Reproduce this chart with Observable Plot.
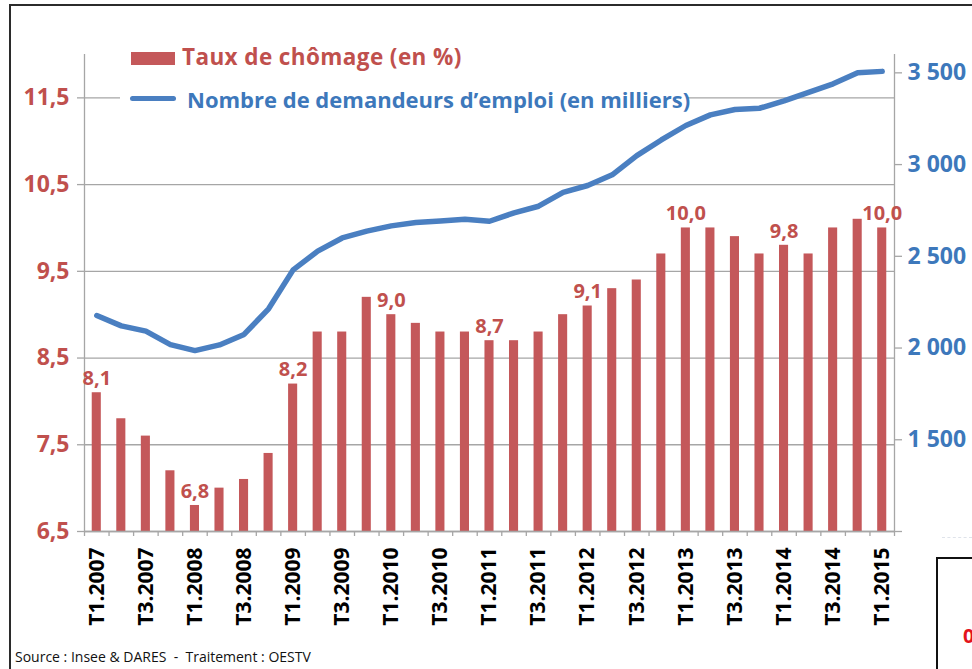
<!DOCTYPE html>
<html><head><meta charset="utf-8">
<script src="https://cdn.jsdelivr.net/npm/d3@7"></script>
<script src="https://cdn.jsdelivr.net/npm/@observablehq/plot@0.6"></script>
<style>
body{margin:0;background:#fff;}
#wrap{position:relative;width:972px;height:669px;overflow:hidden;font-family:"Open Sans",sans-serif;background:#fff;}
#chart{position:absolute;left:0;top:0;}
.frame{position:absolute;left:9px;top:4px;width:1000px;height:700px;border-left:2px solid #2b2b2b;border-top:2px solid #2b2b2b;pointer-events:none;}
#legend{position:absolute;left:120px;top:38px;width:568px;height:80px;background:#fff;}
#legend .sw1{position:absolute;left:11px;top:14px;width:44px;height:13px;background:#c4585a;}
#legend .sw2{position:absolute;left:10px;top:58px;width:46px;height:5px;border-radius:3px;background:#4a7fc1;}
#legend .t1{position:absolute;left:62px;top:2px;font-size:22.5px;font-weight:700;letter-spacing:0.4px;color:#c0504d;white-space:nowrap;line-height:34px;}
#legend .t2{position:absolute;left:67px;top:44px;font-size:22px;font-weight:700;color:#3d78bb;white-space:nowrap;line-height:34px;}
#caption{position:absolute;left:15px;top:647px;font-size:14px;color:#111;white-space:nowrap;line-height:20px;}
#box{position:absolute;left:936px;top:557px;width:100px;height:200px;border-left:2px solid #111;border-top:2px solid #111;background:#fff;}
#box span{position:absolute;left:25px;top:65px;font-size:20px;font-weight:700;color:#e3141c;line-height:24px;}
#faint{position:absolute;left:942px;top:537px;width:30px;height:1px;border-top:1px dashed #dfe3ea;}
</style></head><body>
<div id="wrap">
  <div id="chart"></div>
  <div class="frame"></div>
  <div id="legend">
    <div class="sw1"></div><div class="t1">Taux de chômage (en %)</div>
    <div class="sw2"></div><div class="t2">Nombre de demandeurs d’emploi (en milliers)</div>
  </div>
  <div id="caption">Source : Insee &amp; DARES&nbsp; -&nbsp; Traitement : OESTV</div>
  <div id="faint"></div>
  <div id="box"><span>0</span></div>
</div>
<script>
const quarters = [
  "T1.2007","T2.2007","T3.2007","T4.2007",
  "T1.2008","T2.2008","T3.2008","T4.2008",
  "T1.2009","T2.2009","T3.2009","T4.2009",
  "T1.2010","T2.2010","T3.2010","T4.2010",
  "T1.2011","T2.2011","T3.2011","T4.2011",
  "T1.2012","T2.2012","T3.2012","T4.2012",
  "T1.2013","T2.2013","T3.2013","T4.2013",
  "T1.2014","T2.2014","T3.2014","T4.2014",
  "T1.2015"
];
const tauxChomage = [8.1,7.8,7.6,7.2, 6.8,7.0,7.1,7.4, 8.2,8.8,8.8,9.2, 9.0,8.9,8.8,8.8, 8.7,8.7,8.8,9.0, 9.1,9.3,9.4,9.7, 10.0,10.0,9.9,9.7, 9.8,9.7,10.0,10.1, 10.0];
const demandeurs = [2177,2121,2092,2019, 1986,2017,2074,2214, 2426,2528,2600,2637, 2666,2684,2693,2702, 2691,2737,2773,2849, 2886,2944,3049,3134, 3213,3271,3300,3307, 3347,3394,3440,3500, 3508];
const labelledQuarters = ["T1.2007","T1.2008","T1.2009","T1.2010","T1.2011","T1.2012","T1.2013","T1.2014","T1.2015"];
const xTickLabels = quarters.filter(q => q.startsWith("T1") || q.startsWith("T3"));
const leftTicks = [6.5,7.5,8.5,9.5,10.5,11.5];
const rightTicks = [1000,1500,2000,2500,3000,3500];
const leftDomain = [6.5, 12];
const rightDomain = [1000, 3600];

const RED = "#c0504d", BAR = "#c4585a", BLUE = "#3d78bb", LINE = "#4a7fc1", GRAY = "#a6a6a6";
const W = 972, H = 669, ML = 84, MR = 78, MT = 54, MB = 138;
const step = (W - ML - MR) / quarters.length;

const toLeft = v => leftDomain[0] + (v - rightDomain[0]) / (rightDomain[1] - rightDomain[0]) * (leftDomain[1] - leftDomain[0]);
const fromLeft = y => rightDomain[0] + (y - leftDomain[0]) / (leftDomain[1] - leftDomain[0]) * (rightDomain[1] - rightDomain[0]);
const comma = v => d3.format(".1f")(v).replace(".", ",");
const thousands = n => d3.format(",")(n).replace(",", " ");

const rows = quarters.map((q, i) => ({q, taux: tauxChomage[i], dem: demandeurs[i]}));

const chart = Plot.plot({
  width: W, height: H,
  marginLeft: ML, marginRight: MR, marginTop: MT, marginBottom: MB,
  style: {background: "transparent", fontFamily: "'Open Sans', sans-serif", overflow: "visible"},
  x: {type: "band", domain: quarters, paddingInner: 0.63, paddingOuter: 0.315, round: false, axis: null},
  y: {domain: leftDomain, axis: null},
  marks: [
    Plot.gridY(leftTicks, {stroke: GRAY, strokeOpacity: 1, strokeWidth: 1.3}),
    Plot.barY(rows, {x: "q", y1: leftDomain[0], y2: "taux", fill: BAR}),
    Plot.ruleY([leftDomain[0]], {stroke: GRAY, strokeWidth: 1.3}),
    Plot.ruleX([quarters[0]], {x: d => d, dx: -step / 2, y1: leftDomain[0], y2: leftDomain[1], stroke: GRAY, strokeWidth: 1.3}),
    Plot.ruleX([quarters[quarters.length - 1]], {x: d => d, dx: step / 2, y1: leftDomain[0], y2: leftDomain[1], stroke: GRAY, strokeWidth: 1.3}),
    Plot.axisX(quarters, {tickSize: 5, dx: -step / 2, tickFormat: () => "", label: null, stroke: GRAY, strokeWidth: 1.3}),
    Plot.axisX([quarters[quarters.length - 1]], {tickSize: 5, dx: step / 2, tickFormat: () => "", label: null, stroke: GRAY, strokeWidth: 1.3}),
    Plot.axisX(xTickLabels, {tickSize: 0, tickRotate: -90, tickPadding: 16, label: null, fontSize: 21, fontWeight: 700, fill: "#000"}),
    Plot.axisY(leftTicks, {anchor: "left", tickSize: 7, tickPadding: 8, tickFormat: comma, label: null, stroke: GRAY, strokeWidth: 1.3, fill: RED, fontSize: 23, fontWeight: 700}),
    Plot.axisY(rightTicks.map(toLeft), {anchor: "right", tickSize: 7, tickPadding: 6, label: null, tickFormat: v => { const n = Math.round(fromLeft(v)); return n === rightDomain[0] ? "" : thousands(n); }, stroke: GRAY, strokeWidth: 1.3, fill: BLUE, fontSize: 23, fontWeight: 700}),
    Plot.line(rows, {x: "q", y: d => toLeft(d.dem), stroke: LINE, strokeWidth: 5.5, strokeLinejoin: "round", strokeLinecap: "round"}),
    Plot.text(rows.filter(d => labelledQuarters.includes(d.q)), {x: "q", y: "taux", text: d => comma(d.taux), dy: -14, fill: RED, fontSize: 20, fontWeight: 700})
  ]
});
document.getElementById("chart").appendChild(chart);
</script>
</body></html>
